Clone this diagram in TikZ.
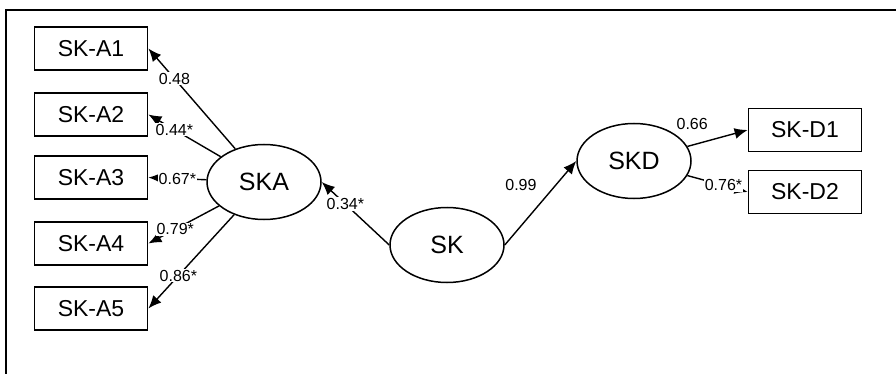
\documentclass[tikz,border=0pt]{standalone}
\usepackage{fontspec}
\setmainfont{Liberation Sans}
\usepackage{tikz}
\usetikzlibrary{shapes.geometric,arrows.meta}

\begin{document}
\begin{tikzpicture}[x=1pt,y=-1pt,
  item/.style={draw,line width=1.8pt,minimum width=113pt,minimum height=43pt,inner sep=0pt,font=\fontsize{23}{23}\selectfont},
  factor/.style={draw,ellipse,line width=1.5pt,minimum width=114pt,minimum height=75pt,inner sep=0pt,font=\fontsize{25}{25}\selectfont},
  path/.style={line width=1.4pt,-{Latex[length=13pt,width=11pt]}},
  coef/.style={fill=white,inner sep=1pt,font=\fontsize{16}{16}\selectfont}]
\useasboundingbox (0,0) rectangle (896,374);
\draw [line width=2pt] (6,374) -- (6,10) -- (896,10);
% indicators of SKA
\node[item] (a1) at (91,48.5) {SK-A1};
\node[item] (a2) at (91,114.5) {SK-A2};
\node[item] (a3) at (91,177.5) {SK-A3};
\node[item] (a4) at (91,243.5) {SK-A4};
\node[item] (a5) at (91,308.5) {SK-A5};
% latent variables
\node[factor] (ska) at (264,182) {SKA};
\node[factor] (sk) at (447,245) {SK};
\node[factor] (skd) at (634,161) {SKD};
% indicators of SKD
\node[item] (d1) at (805,130) {SK-D1};
\node[item] (d2) at (805,192) {SK-D2};
% loadings
\draw [path] (ska) -- (a1.east) node[coef,pos=.7] {0.48};
\draw [path] (ska) -- (a2.east) node[coef,pos=.64] {0.44*};
\draw [path] (ska) -- (a3.east) node[coef,pos=.5] {0.67*};
\draw [path] (ska) -- (a4.east) node[coef,pos=.62] {0.79*};
\draw [path] (ska) -- (a5.east) node[coef,pos=.65] {0.86*};
\draw [path] (sk.west) -- (ska.east) node[coef,pos=.65] {0.34*};
\draw [path] (sk.east) -- (skd.west) node[coef,pos=.72,left=18pt] {0.99};
\draw [path] (skd) -- (d1.west) node[coef,pos=.08,above=14pt] {0.66};
\draw [path] (skd) -- (d2.west) node[coef,pos=.6] {0.76*};
\end{tikzpicture}
\end{document}
